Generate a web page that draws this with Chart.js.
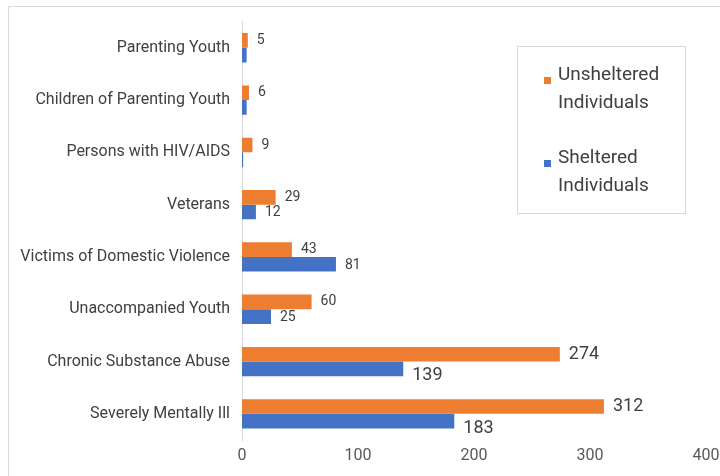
<!DOCTYPE html>
<html>
<head>
<meta charset="utf-8">
<script src="https://cdn.jsdelivr.net/npm/chart.js@4.4.1/dist/chart.umd.min.js"></script>
<style>
  html, body { margin: 0; padding: 0; background: #fff; }
  #wrap { position: relative; width: 720px; height: 476px; }
  #frame { position: absolute; left: 8px; top: 6px; width: 720px; height: 480px; border: 1px solid #d9d9d9; box-sizing: border-box; pointer-events: none; }
</style>
</head>
<body>
<div id="wrap">
  <canvas id="chart" width="720" height="476"></canvas>
  <div id="frame"></div>
</div>
<script>
// categories, top to bottom
const categories = [
  'Parenting Youth',
  'Children of Parenting Youth',
  'Persons with HIV/AIDS',
  'Veterans',
  'Victims of Domestic Violence',
  'Unaccompanied Youth',
  'Chronic Substance Abuse',
  'Severely Mentally Ill'
];
const unsheltered = [5, 6, 9, 29, 43, 60, 274, 312];
const sheltered = [4, 4, 1, 12, 81, 25, 139, 183];
const seriesNames = [['Unsheltered', 'Individuals'], ['Sheltered', 'Individuals']];
const xTicks = [0, 100, 200, 300, 400];

const orange = '#ED7D31';
const blue = '#4472C4';

// value labels next to each bar end
const valueLabels = {
  id: 'valueLabels',
  afterDatasetsDraw(chart) {
    const ctx = chart.ctx;
    ctx.save();
    ctx.fillStyle = '#404040';
    ctx.textAlign = 'left';
    ctx.textBaseline = 'middle';
    chart.data.datasets.forEach((ds, di) => {
      chart.getDatasetMeta(di).data.forEach((bar, i) => {
        const v = ds.data[i];
        if (di === 1 && v < 10) return; // small sheltered values are unlabeled
        const big = v > 100;
        ctx.font = (big ? '18px' : '14px') + ' Roboto, sans-serif';
        let dy = 0;
        if (di === 1) dy = big ? 7 : 1;
        ctx.fillText(String(v), bar.x + 9, bar.y + dy);
      });
    });
    ctx.restore();
  }
};

// boxed legend with two-line entries
const boxLegend = {
  id: 'boxLegend',
  afterDraw(chart) {
    const ctx = chart.ctx;
    ctx.save();
    ctx.strokeStyle = '#d9d9d9';
    ctx.lineWidth = 1;
    ctx.fillStyle = '#fff';
    ctx.fillRect(517, 46, 168, 167);
    ctx.strokeRect(517.5, 46.5, 168, 167);
    ctx.font = '19px Roboto, sans-serif';
    ctx.textBaseline = 'middle';
    ctx.textAlign = 'left';
    const colors = [orange, blue];
    const tops = [75, 158];
    seriesNames.forEach((lines, k) => {
      ctx.fillStyle = colors[k];
      ctx.fillRect(544, tops[k] + 2, 7, 7);
      ctx.fillStyle = '#404040';
      lines.forEach((t, j) => ctx.fillText(t, 558, tops[k] + j * 28));
    });
    ctx.restore();
  }
};

new Chart(document.getElementById('chart'), {
  type: 'bar',
  data: {
    labels: categories,
    datasets: [
      { label: seriesNames[0].join(' '), data: unsheltered, backgroundColor: orange, barPercentage: 1, categoryPercentage: 0.56 },
      { label: seriesNames[1].join(' '), data: sheltered, backgroundColor: blue, barPercentage: 1, categoryPercentage: 0.56 }
    ]
  },
  options: {
    indexAxis: 'y',
    responsive: false,
    animation: false,
    layout: { padding: { left: 0, right: 0, top: 19, bottom: 0 } },
    plugins: {
      legend: { display: false },
      tooltip: { enabled: false }
    },
    scales: {
      x: {
        min: 0,
        max: 400,
        afterBuildTicks: (scale) => { scale.ticks = xTicks.map(v => ({ value: v })); },
        grid: { display: false, drawTicks: false },
        border: { display: false },
        ticks: { color: '#595959', font: { family: 'Roboto', size: 16 }, padding: 6 },
        afterFit: (scale) => { scale.height = 36; scale.paddingRight = 14; }
      },
      y: {
        grid: { display: false, drawTicks: false },
        border: { display: true, color: '#d9d9d9', width: 1 },
        ticks: { color: '#404040', font: { family: 'Roboto', size: 16 }, padding: 12 },
        afterFit: (scale) => { scale.width = 242; }
      }
    }
  },
  plugins: [valueLabels, boxLegend]
});
</script>
</body>
</html>
